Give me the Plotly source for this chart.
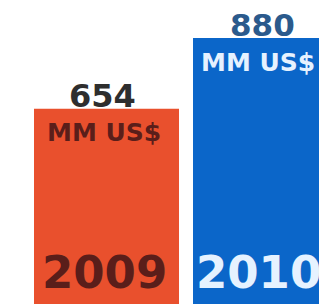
import plotly.graph_objects as go

years = ["2009", "2010"]
values = [654, 880]
value_labels = ["654", "880"]
unit_label = "MM US$"
bar_colors = ["#E9502D", "#0B66C9"]
value_colors = ["#2E2E2E", "#2B5A8C"]
unit_colors = ["#5A1E1A", "#E6F2FF"]
year_colors = ["#5A1E1A", "#E6F2FF"]

xs = [0, 1]
fig = go.Figure(go.Bar(x=xs, y=values, marker=dict(color=bar_colors, line=dict(width=0)),
                       width=0.912, hoverinfo="skip"))

ymin = 6.4
val_size = [32, 31]
val_shift = [(-4.5, -3), (-3.5, -3)]
unit_shift = [(-62, -7), (-67, -8)]
year_shift = [(-67, 11), (-72, 11)]
ann = []
for i, (x, v) in enumerate(zip(xs, values)):
    ann.append(dict(x=x, y=v, text="<b>" + value_labels[i] + "</b>", showarrow=False,
                    yanchor="bottom", height=28, valign="middle",
                    xshift=val_shift[i][0], yshift=val_shift[i][1],
                    font=dict(family="DejaVu Sans", size=val_size[i], color=value_colors[i])))
    ann.append(dict(x=x, y=v, text="<b>" + unit_label + "</b>", showarrow=False,
                    yanchor="top", xanchor="left",
                    xshift=unit_shift[i][0], yshift=unit_shift[i][1],
                    font=dict(family="DejaVu Sans", size=25, color=unit_colors[i])))
    ann.append(dict(x=x, y=ymin, text="<b>" + years[i] + "</b>", showarrow=False,
                    yanchor="bottom", xanchor="left",
                    xshift=year_shift[i][0], yshift=year_shift[i][1],
                    font=dict(family="DejaVu Sans", size=45, color=year_colors[i])))

fig.update_layout(
    width=327, height=304,
    margin=dict(l=0, r=0, t=0, b=0),
    paper_bgcolor="white", plot_bgcolor="white",
    showlegend=False,
    xaxis=dict(range=[-0.6195, 1.437], visible=False),
    yaxis=dict(range=[ymin, 975.6], visible=False),
    annotations=ann,
)
fig.write_html("out.html")
